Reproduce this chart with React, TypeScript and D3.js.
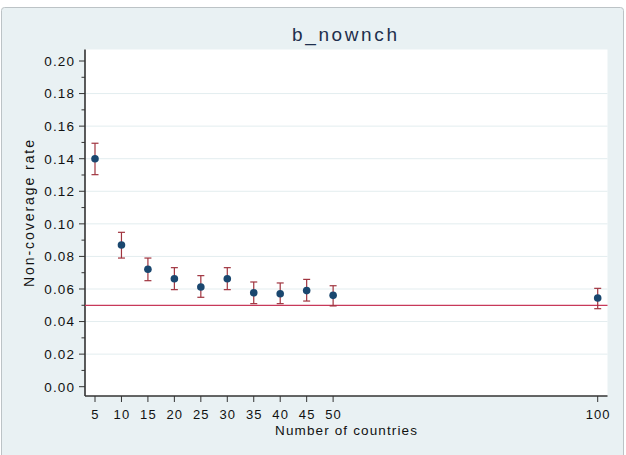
import * as d3 from "d3";
import { useEffect, useRef } from "react";

const WIDTH = 626;
const HEIGHT = 455;
const PLOT = { left: 85, right: 607.5, top: 49.5, bottom: 396 };

// number of countries, estimate and 95% CI bounds
const countries = [5, 10, 15, 20, 25, 30, 35, 40, 45, 50, 100];
const estimate = [0.14, 0.087, 0.0721, 0.0663, 0.0612, 0.0663, 0.0577, 0.0571, 0.059, 0.0561, 0.0545];
const lower = [0.1302, 0.079, 0.0651, 0.0596, 0.0549, 0.0596, 0.051, 0.051, 0.0526, 0.0496, 0.0479];
const upper = [0.1495, 0.0948, 0.079, 0.0731, 0.0682, 0.0731, 0.0643, 0.0637, 0.0659, 0.062, 0.0604];

const xTicks = [5, 10, 15, 20, 25, 30, 35, 40, 45, 50, 100];
const yTicks = [0, 0.02, 0.04, 0.06, 0.08, 0.1, 0.12, 0.14, 0.16, 0.18, 0.2];
const yMinorTicks = [0.01, 0.03, 0.05, 0.07, 0.09, 0.11, 0.13, 0.15, 0.17, 0.19];
const refLine = 0.05;

const FONT = "'Liberation Sans', Arial, sans-serif";

export default function App() {
  const ref = useRef<SVGGElement>(null);

  useEffect(() => {
    const g = d3.select(ref.current);
    g.selectAll("*").remove();

    const x = d3.scaleLinear().domain([5, 100]).range([95, 597.7]);
    const y = d3.scaleLinear().domain([0, 0.2]).range([386.7, 61]);

    // outer panel
    g.append("rect")
      .attr("x", 1.5)
      .attr("y", 7.5)
      .attr("width", 622)
      .attr("height", 460)
      .attr("rx", 3)
      .attr("fill", "#e9f1f3")
      .attr("stroke", "#bcc3c6");

    g.append("rect")
      .attr("x", PLOT.left)
      .attr("y", PLOT.top)
      .attr("width", PLOT.right - PLOT.left)
      .attr("height", PLOT.bottom - PLOT.top)
      .attr("fill", "#ffffff");

    // gridlines
    g.selectAll("line.grid")
      .data(yTicks.filter((t) => t > 0 && t < 0.2))
      .enter()
      .append("line")
      .attr("x1", PLOT.left)
      .attr("x2", PLOT.right)
      .attr("y1", (d) => y(d))
      .attr("y2", (d) => y(d))
      .attr("stroke", "#e3edef")
      .attr("stroke-width", 1);

    // y axis
    const yAxis = g.append("g").attr("transform", `translate(${PLOT.left},0)`);
    yAxis
      .append("line")
      .attr("x1", 0)
      .attr("x2", 0)
      .attr("y1", PLOT.top)
      .attr("y2", PLOT.bottom)
      .attr("stroke", "#333")
      .attr("stroke-width", 1.6);
    yAxis
      .selectAll("line.major")
      .data(yTicks)
      .enter()
      .append("line")
      .attr("x1", -6)
      .attr("x2", 0)
      .attr("y1", (d) => y(d))
      .attr("y2", (d) => y(d))
      .attr("stroke", "#333");
    yAxis
      .selectAll("line.minor")
      .data(yMinorTicks)
      .enter()
      .append("line")
      .attr("x1", -3.5)
      .attr("x2", 0)
      .attr("y1", (d) => y(d))
      .attr("y2", (d) => y(d))
      .attr("stroke", "#333");
    yAxis
      .selectAll("text")
      .data(yTicks)
      .enter()
      .append("text")
      .attr("x", -10)
      .attr("y", (d) => y(d))
      .attr("dy", "0.36em")
      .attr("text-anchor", "end")
      .style("font-family", FONT)
      .style("font-size", "13.5px")
      .style("letter-spacing", "1.1px")
      .attr("fill", "#111")
      .text((d) => d3.format(".2f")(d));

    // x axis
    const xAxis = g.append("g").attr("transform", `translate(0,${PLOT.bottom})`);
    xAxis
      .append("line")
      .attr("x1", PLOT.left)
      .attr("x2", PLOT.right)
      .attr("y1", 0)
      .attr("y2", 0)
      .attr("stroke", "#333")
      .attr("stroke-width", 1.6);
    xAxis
      .selectAll("line.tick")
      .data(xTicks)
      .enter()
      .append("line")
      .attr("x1", (d) => x(d))
      .attr("x2", (d) => x(d))
      .attr("y1", 0)
      .attr("y2", 6)
      .attr("stroke", "#333");
    xAxis
      .selectAll("text")
      .data(xTicks)
      .enter()
      .append("text")
      .attr("x", (d) => x(d) + 0.5)
      .attr("y", 23)
      .attr("text-anchor", "middle")
      .style("font-family", FONT)
      .style("font-size", "13px")
      .style("letter-spacing", "1.1px")
      .attr("fill", "#111")
      .text((d) => String(d));

    // axis titles
    g.append("text")
      .attr("transform", `translate(34,213.5) rotate(-90)`)
      .attr("text-anchor", "middle")
      .attr("textLength", 147)
      .attr("lengthAdjust", "spacing")
      .style("font-family", FONT)
      .style("font-size", "14px")
      .attr("fill", "#111")
      .text("Non-coverage rate");
    g.append("text")
      .attr("x", 346)
      .attr("y", 434.5)
      .attr("text-anchor", "middle")
      .attr("textLength", 142)
      .attr("lengthAdjust", "spacing")
      .style("font-family", FONT)
      .style("font-size", "13.5px")
      .attr("fill", "#111")
      .text("Number of countries");

    // title
    g.append("text")
      .attr("x", 344.5)
      .attr("y", 40.5)
      .attr("text-anchor", "middle")
      .attr("textLength", 105)
      .attr("lengthAdjust", "spacing")
      .style("font-family", FONT)
      .style("font-size", "19px")
      .attr("fill", "#1e2f4d")
      .text("b_nownch");

    // reference line
    g.append("line")
      .attr("x1", PLOT.left)
      .attr("x2", PLOT.right)
      .attr("y1", y(refLine))
      .attr("y2", y(refLine))
      .attr("stroke", "#c8385a")
      .attr("stroke-width", 1.3);

    const rows = countries.map((c, i) => ({ c, est: estimate[i], lo: lower[i], hi: upper[i] }));

    // error bars
    const bars = g.selectAll("g.ci").data(rows).enter().append("g").attr("class", "ci");
    bars
      .append("line")
      .attr("x1", (d) => x(d.c))
      .attr("x2", (d) => x(d.c))
      .attr("y1", (d) => y(d.lo))
      .attr("y2", (d) => y(d.hi))
      .attr("stroke", "#a0343f")
      .attr("stroke-width", 1.2);
    bars
      .append("line")
      .attr("x1", (d) => x(d.c) - 3.5)
      .attr("x2", (d) => x(d.c) + 3.5)
      .attr("y1", (d) => y(d.lo))
      .attr("y2", (d) => y(d.lo))
      .attr("stroke", "#a0343f")
      .attr("stroke-width", 1.2);
    bars
      .append("line")
      .attr("x1", (d) => x(d.c) - 3.5)
      .attr("x2", (d) => x(d.c) + 3.5)
      .attr("y1", (d) => y(d.hi))
      .attr("y2", (d) => y(d.hi))
      .attr("stroke", "#a0343f")
      .attr("stroke-width", 1.2);

    // points
    g.selectAll("circle.pt")
      .data(rows)
      .enter()
      .append("circle")
      .attr("cx", (d) => x(d.c))
      .attr("cy", (d) => y(d.est))
      .attr("r", 3.8)
      .attr("fill", "#1a476f");
  }, []);

  return (
    <svg
      width={WIDTH}
      height={HEIGHT}
      style={{ position: "absolute", left: 0, top: 0, background: "#ffffff" }}
    >
      <g ref={ref} />
    </svg>
  );
}
